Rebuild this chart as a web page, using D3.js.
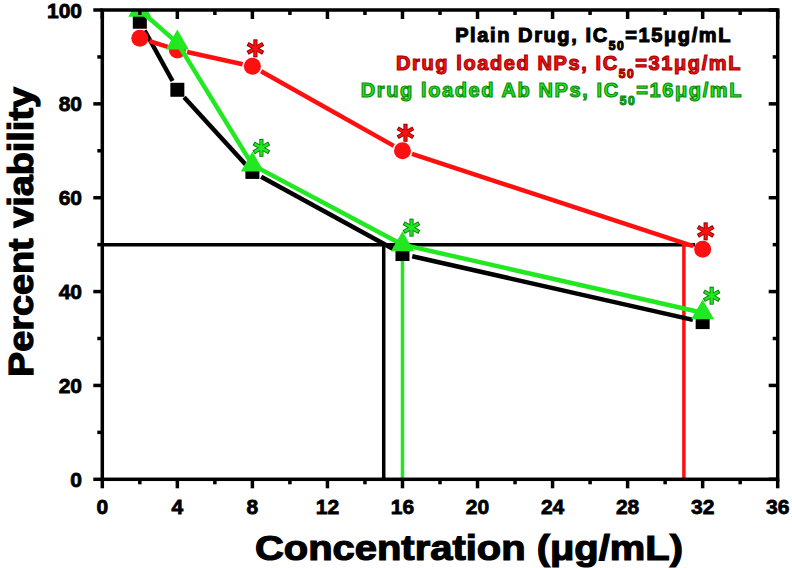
<!DOCTYPE html>
<html><head><meta charset="utf-8">
<script src="https://cdn.jsdelivr.net/npm/d3@7"></script>
<style>
html,body{margin:0;padding:0;background:#fff;}
text{font-family:"Liberation Sans",Arial,sans-serif;font-weight:bold;}
</style></head>
<body><svg id="c" width="792" height="568"></svg>
<script>
// ---- data ----
const concentrations = [2, 4, 8, 16, 32];
const plainDrug   = [97.5, 83, 65.5, 48, 33.5];
const drugNPs     = [94, 91.5, 88, 70, 49];
const drugAbNPs   = [100, 93, 67, 50, 35.5];
const starredIdx  = [2, 3, 4];           // points marked with *
const ic50Values  = {plain: 15, nps: 31, abnps: 16};
const ic50Level   = 50;
const xTicks = [0, 4, 8, 12, 16, 20, 24, 28, 32, 36];
const yTicks = [0, 20, 40, 60, 80, 100];
const legendLines = [
  {pre: "Plain Drug, IC", sub: "50", post: "=15μg/mL", color: "#000000", stroke:"#000"},
  {pre: "Drug loaded NPs, IC", sub: "50", post: "=31μg/mL", color: "#ff1010", stroke:"#a00000"},
  {pre: "Drug loaded Ab NPs, IC", sub: "50", post: "=16μg/mL", color: "#22e822", stroke:"#0a8a0a"}
];

const svg = d3.select("#c");
const x = d3.scaleLinear().domain([0, 36]).range([102.3, 777.7]);
const y = d3.scaleLinear().domain([0, 100]).range([479.3, 10]);

const RED = "#ff1010", GREEN = "#22e822", BLACK = "#000";

svg.append("defs").append("clipPath").attr("id","clip")
  .append("rect").attr("x", x(0)).attr("y", y(100)).attr("width", x(36)-x(0)).attr("height", y(0)-y(100));

// IC50 guide lines
const g0 = svg.append("g").attr("clip-path","url(#clip)");
g0.append("line").attr("x1", x(0)).attr("x2", x(31.6)).attr("y1", y(ic50Level)).attr("y2", y(ic50Level))
  .attr("stroke", BLACK).attr("stroke-width", 3.5);
g0.append("line").attr("x1", x(ic50Values.plain)).attr("x2", x(ic50Values.plain)).attr("y1", y(ic50Level)).attr("y2", y(0))
  .attr("stroke", BLACK).attr("stroke-width", 3.5);
g0.append("line").attr("x1", x(ic50Values.nps)).attr("x2", x(ic50Values.nps)).attr("y1", y(ic50Level)).attr("y2", y(0))
  .attr("stroke", RED).attr("stroke-width", 3.5);
g0.append("line").attr("x1", x(ic50Values.abnps)).attr("x2", x(ic50Values.abnps)).attr("y1", y(ic50Level)).attr("y2", y(0))
  .attr("stroke", GREEN).attr("stroke-width", 3.5);

// series
function drawSeries(vals, color, gap, markerFn) {
  const g = svg.append("g").attr("clip-path","url(#clip)");
  const pts = concentrations.map((c,i)=>[x(c), y(vals[i])]);
  for (let i=0;i<pts.length-1;i++){
    const [x1,y1]=pts[i],[x2,y2]=pts[i+1];
    const dx=x2-x1, dy=y2-y1, L=Math.hypot(dx,dy);
    const ux=dx/L, uy=dy/L;
    g.append("line").attr("x1",x1+ux*gap).attr("y1",y1+uy*gap)
      .attr("x2",x2-ux*gap).attr("y2",y2-uy*gap)
      .attr("stroke",color).attr("stroke-width",4.5).attr("stroke-linecap","butt");
  }
  pts.forEach(p=>markerFn(g,p));
}
drawSeries(plainDrug, BLACK, 10, (g,p)=>g.append("rect").attr("x",p[0]-7).attr("y",p[1]-7).attr("width",14).attr("height",14).attr("fill",BLACK));
drawSeries(drugNPs, RED, 10, (g,p)=>g.append("circle").attr("cx",p[0]).attr("cy",p[1]).attr("r",8.5).attr("fill",RED));
drawSeries(drugAbNPs, GREEN, 0, (g,p)=>g.append("path").attr("transform",`translate(${p[0]},${p[1]})`)
  .attr("d", d3.symbol(d3.symbolTriangle, 230)()).attr("fill",GREEN));

// asterisks (6-armed, with darker outline)
function star(cx, cy, fill, stroke){
  const g = svg.append("g").attr("transform",`translate(${cx},${cy})`);
  const arms = [90, 30, 150];
  [[stroke, 4.2, 9],[fill, 2.4, 8]].forEach(([c,w,r])=>{
    arms.forEach(a=>{
      const rad = a*Math.PI/180;
      g.append("line").attr("x1",-r*Math.cos(rad)).attr("y1",-r*Math.sin(rad))
        .attr("x2",r*Math.cos(rad)).attr("y2",r*Math.sin(rad))
        .attr("stroke",c).attr("stroke-width",w).attr("stroke-linecap","butt");
    });
  });
}
starredIdx.forEach(i=>{
  star(x(concentrations[i])+3, y(drugNPs[i])-18, RED, "#8a0000");
  star(x(concentrations[i])+9, y(drugAbNPs[i])-17, GREEN, "#0a7a0a");
});

// frame
const fr = svg.append("g");
fr.append("rect").attr("x",x(0)).attr("y",y(100)).attr("width",x(36)-x(0)).attr("height",y(0)-y(100))
  .attr("fill","none").attr("stroke",BLACK).attr("stroke-width",3.5);

// bottom axis ticks (outward) and top ticks (inward)
d3.range(0, 37, 2).forEach(v=>{
  const major = v % 4 === 0;
  fr.append("line").attr("x1",x(v)).attr("x2",x(v)).attr("y1",y(0)).attr("y2",y(0)+(major?9:5))
    .attr("stroke",BLACK).attr("stroke-width",3.5);
  fr.append("line").attr("x1",x(v)).attr("x2",x(v)).attr("y1",y(100)).attr("y2",y(100)+(major?9:5))
    .attr("stroke",BLACK).attr("stroke-width",3.5);
});
d3.range(0, 101, 10).forEach(v=>{
  const major = v % 20 === 0;
  fr.append("line").attr("x1",x(0)).attr("x2",x(0)-(major?9:5)).attr("y1",y(v)).attr("y2",y(v))
    .attr("stroke",BLACK).attr("stroke-width",3.5);
  fr.append("line").attr("x1",x(36)).attr("x2",x(36)-(major?9:5)).attr("y1",y(v)).attr("y2",y(v))
    .attr("stroke",BLACK).attr("stroke-width",3.5);
});

// tick labels
xTicks.forEach(v=>{
  svg.append("text").attr("x",x(v)).attr("y",513.5).attr("text-anchor","middle")
    .attr("font-size",21).attr("stroke","#000").attr("stroke-width",0.8).text(v);
});
yTicks.forEach(v=>{
  svg.append("text").attr("x",82).attr("y",y(v)+7.5).attr("text-anchor","end")
    .attr("font-size",21).attr("stroke","#000").attr("stroke-width",0.8).text(v);
});

// axis titles
svg.append("text").attr("x",469).attr("y",560).attr("text-anchor","middle")
  .attr("font-size",35).attr("stroke","#000").attr("stroke-width",1.2)
  .attr("textLength",428).attr("lengthAdjust","spacingAndGlyphs")
  .text("Concentration (μg/mL)");
svg.append("text").attr("transform","translate(33,232) rotate(-90)").attr("text-anchor","middle")
  .attr("font-size",35).attr("stroke","#000").attr("stroke-width",1.2)
  .attr("textLength",290).attr("lengthAdjust","spacingAndGlyphs")
  .text("Percent viability");

// legend
const legX = [732, 742, 743], legY = [41.7, 70, 97];
legendLines.forEach((d,i)=>{
  const t = svg.append("text").attr("x",legX[i]).attr("y",legY[i]).attr("text-anchor","end")
    .attr("font-size",20).attr("letter-spacing",1.6).attr("fill",d.color)
    .attr("stroke",d.stroke).attr("stroke-width",1.1);
  t.append("tspan").text(d.pre);
  t.append("tspan").attr("font-size",12).attr("dy",8).text(d.sub);
  t.append("tspan").attr("dy",-8).text(d.post);
});
</script></body></html>
